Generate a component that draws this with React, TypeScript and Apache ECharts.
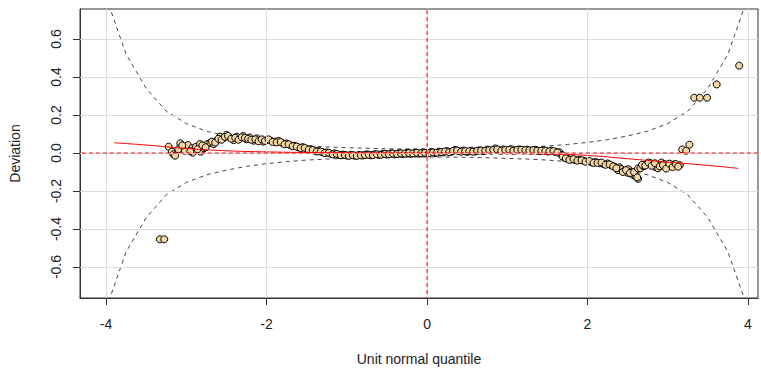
import React, { useEffect, useRef } from "react";
import * as echarts from "echarts";

// Tick positions
const xTicks = [-4, -2, 0, 2, 4];
const yTicks = [-0.6, -0.4, -0.2, 0, 0.2, 0.4, 0.6];

// 95% confidence band (upper half; lower half is its mirror)
const bandZ = [-4, -3.75, -3.5, -3.25, -3, -2.75, -2.5, -2.25, -2, -1.75, -1.5, -1.25, -1, -0.5, 0,
  0.5, 1, 1.25, 1.5, 1.75, 2, 2.25, 2.5, 2.75, 3, 3.25, 3.5, 3.75, 4];
const bandHalfWidth = [0.82, 0.52, 0.34, 0.22, 0.155, 0.115, 0.09, 0.07, 0.056, 0.045, 0.037, 0.032, 0.028, 0.022, 0.021,
  0.022, 0.028, 0.032, 0.037, 0.045, 0.056, 0.07, 0.09, 0.115, 0.155, 0.22, 0.34, 0.52, 0.82];

// Fitted cubic curve through the worm
const fitCurve: [number, number][] = [
  [-3.9, 0.054], [-3.5, 0.042], [-3.0, 0.024], [-2.5, 0.012], [-2.0, 0.006], [-1.5, 0.003],
  [-1.0, 0.001], [-0.5, 0.0], [0, -0.001], [0.5, -0.002], [1.0, -0.003], [1.5, -0.005],
  [2.0, -0.013], [2.5, -0.03], [3.0, -0.048], [3.5, -0.065], [3.88, -0.081],
];

// Residual points: [unit normal quantile, deviation]
const leftOutliers: [number, number][] = [[-3.33, -0.454], [-3.275, -0.454]];

const leftTail: [number, number][] = [
  [-3.22, 0.033], [-3.18, 0.007], [-3.16, -0.007], [-3.14, -0.014], [-3.075, 0.051], [-3.03, 0.03],
  [-3.02, 0.012], [-2.98, 0.042], [-2.93, 0.025], [-2.92, 0.002], [-2.88, 0.033], [-2.83, 0.047],
  [-2.82, 0.007], [-2.78, 0.025], [-2.74, 0.047], [-2.7, 0.054], [-2.66, 0.047], [-2.62, 0.065],
  [-2.58, 0.086], [-2.54, 0.077], [-2.5, 0.095], [-2.46, 0.082], [-2.41, 0.068], [-2.37, 0.086],
  [-2.33, 0.077], [-2.29, 0.089], [-2.25, 0.072], [-2.21, 0.082], [-2.16, 0.065], [-2.12, 0.077],
  [-2.08, 0.068], [-2.04, 0.06], [-2.0, 0.068],
  [-3.1, 0.02], [-3.05, 0.04], [-2.95, 0.01], [-2.86, 0.02], [-2.8, 0.04], [-2.76, 0.03],
  [-2.68, 0.06], [-2.64, 0.055], [-2.6, 0.075], [-2.56, 0.07], [-2.52, 0.085], [-2.48, 0.09],
  [-2.44, 0.075], [-2.39, 0.08], [-2.35, 0.07], [-2.31, 0.083], [-2.27, 0.08], [-2.23, 0.075],
  [-2.19, 0.07], [-2.14, 0.072], [-2.1, 0.062], [-2.06, 0.072], [-2.02, 0.064],
];

const body: [number, number][] = [
  [-1.95, 0.066], [-1.9, 0.06], [-1.85, 0.064], [-1.8, 0.052], [-1.75, 0.05], [-1.7, 0.041],
  [-1.65, 0.038], [-1.6, 0.03], [-1.55, 0.031], [-1.5, 0.022], [-1.45, 0.02], [-1.4, 0.013],
  [-1.35, 0.01], [-1.3, 0.004], [-1.25, 0.003], [-1.2, -0.004], [-1.15, -0.002], [-1.1, -0.01],
  [-1.05, -0.008], [-1.0, -0.013], [-0.95, -0.009], [-0.9, -0.014], [-0.85, -0.01], [-0.8, -0.013],
  [-0.75, -0.007], [-0.7, -0.012], [-0.65, -0.006], [-0.6, -0.01], [-0.55, -0.004], [-0.5, -0.008],
  [-0.45, -0.002], [-0.4, -0.007], [-0.35, -0.001], [-0.3, -0.005], [-0.25, 0.001], [-0.2, -0.004],
  [-0.15, 0.002], [-0.1, -0.003], [-0.05, 0.003], [0.0, -0.002], [0.05, 0.004], [0.1, 0.0],
  [0.15, 0.007], [0.2, 0.003], [0.25, 0.01], [0.3, 0.006], [0.35, 0.016], [0.4, 0.009],
  [0.45, 0.013], [0.5, 0.006], [0.55, 0.012], [0.6, 0.008], [0.65, 0.014], [0.7, 0.01],
  [0.75, 0.018], [0.8, 0.012], [0.85, 0.024], [0.9, 0.014], [0.95, 0.019], [1.0, 0.013],
  [1.05, 0.02], [1.1, 0.014], [1.15, 0.019], [1.2, 0.013], [1.25, 0.018], [1.3, 0.012],
  [1.35, 0.017], [1.4, 0.01], [1.45, 0.015], [1.5, 0.008], [1.55, 0.013], [1.6, 0.006],
  [1.65, 0.004], [1.68, -0.01], [1.71, -0.024], [1.75, -0.03], [1.8, -0.034], [1.85, -0.038],
  [1.9, -0.035], [1.95, -0.041], [2.0, -0.044], [2.05, -0.049], [2.1, -0.047], [2.15, -0.054],
  [2.2, -0.058], [2.25, -0.055], [2.3, -0.066], [2.34, -0.072], [2.38, -0.09], [2.4, -0.075],
  [2.42, -0.084], [2.46, -0.094], [2.5, -0.104], [2.51, -0.085], [2.54, -0.098], [2.55, -0.11],
  [2.57, -0.115], [2.6, -0.122], [2.63, -0.136],
];

const bodyInner: [number, number][] = [
  [-1.975, 0.072], [-1.925, 0.058], [-1.875, 0.056], [-1.825, 0.058], [-1.775, 0.046], [-1.725, 0.046],
  [-1.675, 0.036], [-1.625, 0.034], [-1.575, 0.026], [-1.525, 0.027], [-1.475, 0.018], [-1.425, 0.016],
  [-1.375, 0.008], [-1.325, 0.008], [-1.275, 0.0], [-1.225, 0.001], [-1.175, -0.007], [-1.125, -0.005],
  [-1.075, -0.012], [-1.025, -0.01], [-0.975, -0.015], [-0.925, -0.011], [-0.875, -0.015], [-0.825, -0.012],
  [-0.775, -0.01], [-0.725, -0.009], [-0.675, -0.011], [-0.625, -0.007], [-0.575, -0.009], [-0.525, -0.005],
  [-0.475, -0.006], [-0.425, -0.003], [-0.375, -0.005], [-0.325, -0.002], [-0.275, -0.003], [-0.225, 0.0],
  [-0.175, -0.002], [-0.125, 0.001], [-0.075, -0.001], [-0.025, 0.001], [0.025, 0.0], [0.075, 0.003],
  [0.125, 0.002], [0.175, 0.005], [0.225, 0.008], [0.275, 0.004], [0.325, 0.011], [0.375, 0.013],
  [0.425, 0.007], [0.475, 0.01], [0.525, 0.009], [0.575, 0.007], [0.625, 0.011], [0.675, 0.013],
  [0.725, 0.012], [0.775, 0.015], [0.825, 0.016], [0.875, 0.019], [0.925, 0.012], [0.975, 0.016],
  [1.025, 0.017], [1.075, 0.012], [1.125, 0.016], [1.175, 0.017], [1.225, 0.015], [1.275, 0.014],
  [1.325, 0.015], [1.375, 0.012], [1.425, 0.012], [1.475, 0.011], [1.525, 0.009], [1.575, 0.01],
  [1.625, 0.003], [1.69, -0.018], [1.73, -0.028], [1.775, -0.036], [1.825, -0.032], [1.875, -0.04],
  [1.925, -0.038], [1.975, -0.046], [2.025, -0.042], [2.075, -0.052], [2.125, -0.052], [2.175, -0.05],
  [2.225, -0.062], [2.275, -0.06], [2.32, -0.07], [2.36, -0.08], [2.44, -0.1], [2.48, -0.09],
  [2.53, -0.105], [2.58, -0.1], [2.62, -0.128],
];

const rightTail: [number, number][] = [
  [2.63, -0.081], [2.66, -0.08], [2.7, -0.07], [2.74, -0.058], [2.78, -0.052], [2.82, -0.06],
  [2.85, -0.075], [2.88, -0.08], [2.92, -0.05], [2.96, -0.058], [3.0, -0.07], [3.04, -0.066],
  [3.08, -0.06], [3.12, -0.068], [3.15, -0.064],
  [2.68, -0.062], [2.72, -0.066], [2.76, -0.05], [2.8, -0.067], [2.84, -0.054], [2.9, -0.07],
  [2.94, -0.064], [2.98, -0.082], [3.02, -0.056], [3.06, -0.074], [3.1, -0.058], [3.13, -0.072],
];

const rightOutliers: [number, number][] = [
  [3.18, 0.019], [3.23, 0.012], [3.27, 0.044], [3.33, 0.291], [3.4, 0.291], [3.49, 0.291],
  [3.61, 0.361], [3.89, 0.46],
];

const FONT = "Liberation Sans, Arial, sans-serif";

export default function App() {
  const ref = useRef<HTMLDivElement>(null);

  useEffect(() => {
    if (!ref.current) return;
    const chart = echarts.init(ref.current, null, { renderer: "svg" });

    const points = [...leftOutliers, ...leftTail, ...body, ...bodyInner, ...rightTail, ...rightOutliers];
    const upper = bandZ.map((z, i) => [z, bandHalfWidth[i]]);
    const lower = bandZ.map((z, i) => [z, -bandHalfWidth[i]]);

    const dashedBand = { color: "#444", width: 1, type: [4, 4] as number[] };
    const tickStyle = { color: "#333", width: 1 };
    const refStyle = { color: "#ff0000", width: 1, type: [4, 3] as number[] };

    chart.setOption({
      animation: false,
      backgroundColor: "#fff",
      grid: {
        left: 80,
        top: 9,
        width: 678,
        height: 289,
        show: true,
        borderColor: "#333",
        borderWidth: 1,
        backgroundColor: "transparent",
        outerBoundsMode: "none",
      },
      xAxis: {
        type: "value",
        min: -4.325,
        max: 4.125,
        name: "Unit normal quantile",
        nameLocation: "middle",
        nameGap: 54,
        nameTextStyle: { fontFamily: FONT, fontSize: 14, color: "#222" },
        axisLine: { show: true, onZero: false, lineStyle: tickStyle },
        axisTick: { show: true, length: 7, customValues: xTicks, lineStyle: tickStyle },
        axisLabel: {
          customValues: xTicks,
          margin: 19,
          fontFamily: FONT,
          fontSize: 14,
          color: "#222",
          formatter: (v: number) => String(v),
        },
        splitLine: { show: false },
      },
      yAxis: {
        type: "value",
        min: -0.763,
        max: 0.758,
        name: "Deviation",
        nameLocation: "middle",
        nameGap: 58,
        nameTextStyle: { fontFamily: FONT, fontSize: 14, color: "#222" },
        axisLine: { show: true, onZero: false, lineStyle: tickStyle },
        axisTick: { show: true, length: 7, customValues: yTicks, lineStyle: tickStyle },
        axisLabel: {
          customValues: yTicks,
          rotate: 90,
          margin: 17,
          fontFamily: FONT,
          fontSize: 14,
          color: "#222",
          formatter: (v: number) => v.toFixed(1),
        },
        splitLine: { show: false },
      },
      series: [
        {
          // background grid
          type: "line",
          data: [],
          silent: true,
          z: 1,
          markLine: {
            silent: true,
            symbol: "none",
            label: { show: false },
            lineStyle: { color: "#dcdcdc", width: 1, type: "solid" },
            data: [
              ...xTicks.map((v) => ({ xAxis: v })),
              ...yTicks.map((v) => ({ yAxis: v })),
            ],
          },
        },
        {
          type: "line",
          data: upper,
          symbol: "none",
          silent: true,
          z: 2,
          lineStyle: dashedBand,
        },
        {
          type: "line",
          data: lower,
          symbol: "none",
          silent: true,
          z: 2,
          lineStyle: dashedBand,
        },
        {
          type: "scatter",
          data: points,
          symbol: "circle",
          symbolSize: 7,
          z: 3,
          itemStyle: { color: "#f3d6a3", borderColor: "#000", borderWidth: 1, opacity: 1 },
        },
        {
          type: "line",
          data: fitCurve,
          symbol: "none",
          smooth: true,
          silent: true,
          z: 4,
          lineStyle: { color: "#ff0000", width: 1 },
        },
        {
          // vertical zero reference
          type: "line",
          data: [[0, -1], [0, 1]],
          symbol: "none",
          silent: true,
          z: 5,
          lineStyle: refStyle,
        },
        {
          // horizontal zero reference
          type: "line",
          data: [[-5, 0], [5, 0]],
          symbol: "none",
          silent: true,
          z: 5,
          lineStyle: refStyle,
        },
      ],
    });

    return () => chart.dispose();
  }, []);

  return (
    <div
      ref={ref}
      style={{ position: "fixed", left: 0, top: 0, width: 761, height: 369 }}
    />
  );
}
